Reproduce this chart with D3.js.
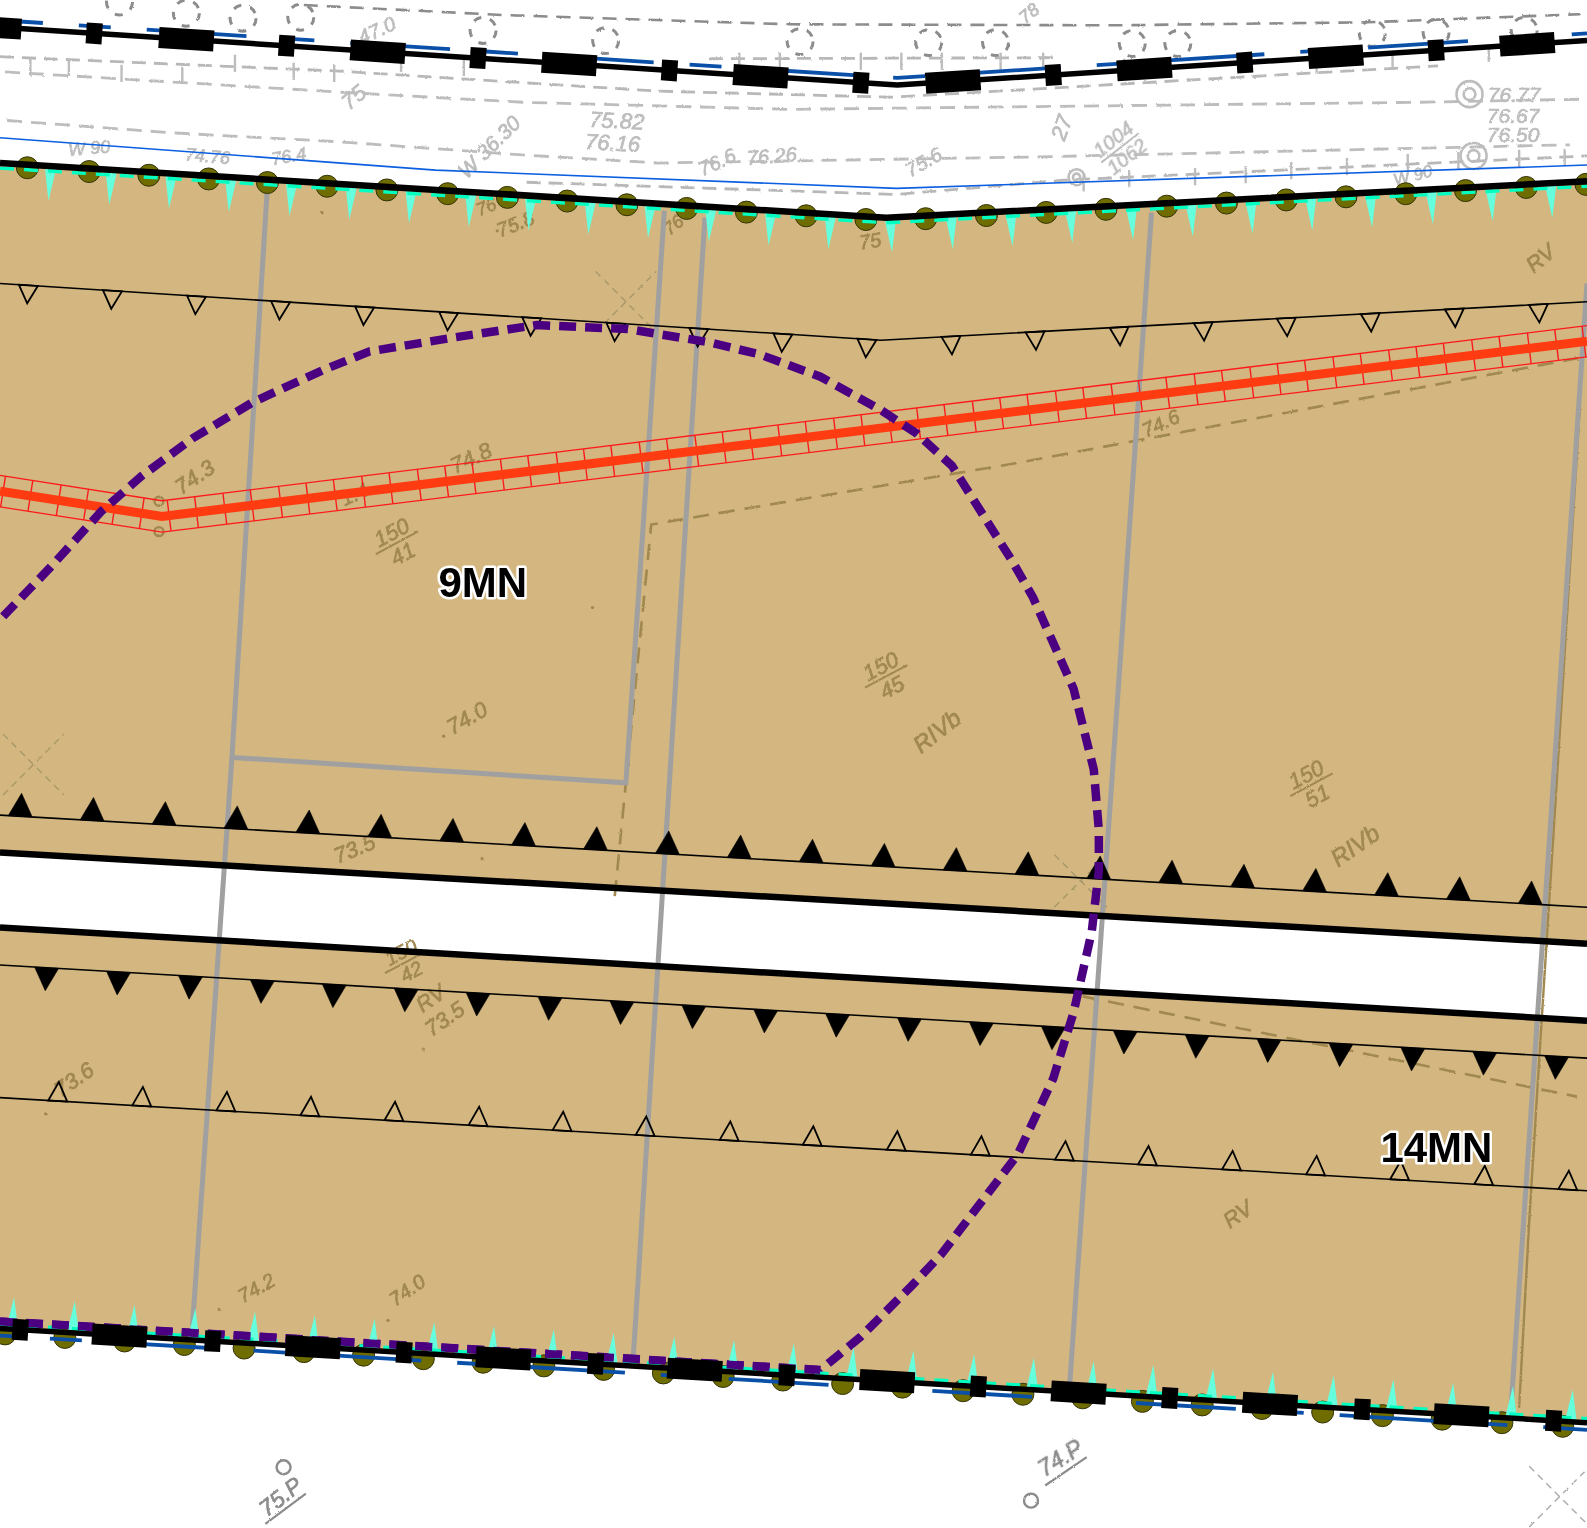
<!DOCTYPE html>
<html>
<head>
<meta charset="utf-8">
<style>
  html, body { margin: 0; padding: 0; background: #fff; }
  svg { display: block; }
</style>
</head>
<body>
<svg id="map"></svg>
<script src="https://cdnjs.cloudflare.com/ajax/libs/d3/7.8.5/d3.min.js"></script>
<script>
const fenceTop = [[0, 27], [886, 84], [1567, 40]];
const fenceBottom = [[0, 1312], [1567, 1405]];
const edgeTop = [[0, 161], [875, 215], [1567, 179]];
const roadUpper = [[0, 842], [1567, 932]];
const roadLower = [[0, 916], [1567, 1008]];
const thinBlue = [[0, 136], [430, 168], [885, 186], [1567, 163]];

const fenceSquaresTop = [93, 283, 472, 661, 850, 1040, 1229, 1418];
const fenceRectsTop = [-6, 184, 373, 562, 751, 941, 1130, 1319, 1508];
const fenceSquaresBottom = [20, 210, 399, 588, 777, 966, 1155, 1345, 1534];
const fenceRectsBottom = [118, 309, 497, 686, 876, 1065, 1254, 1443];

const olivesTop = [27, 88, 147, 206, 264, 323, 382, 442, 501, 560, 619, 678, 737, 796, 855, 914, 974, 1033, 1092, 1152, 1211, 1270, 1329, 1388, 1447, 1507, 1566];
const spikesTop = [50, 110, 169, 228, 288, 347, 406, 465, 524, 583, 642, 702, 761, 820, 879, 939, 998, 1057, 1117, 1176, 1235, 1294, 1353, 1413, 1472, 1531];
const olivesBottom = [5, 64, 123, 182, 241, 300, 359, 418, 477, 537, 596, 655, 714, 773, 832, 891, 951, 1010, 1069, 1128, 1187, 1246, 1306, 1365, 1424, 1483, 1543];
const spikesBottom = [12, 72, 131, 191, 250, 309, 368, 427, 486, 545, 604, 664, 723, 782, 841, 900, 960, 1019, 1078, 1137, 1196, 1255, 1315, 1374, 1433, 1492, 1551];

const slopeOpenTop = [[0, 280], [870, 336], [1567, 298]];
const slopeSolidTop = [[0, 805], [1567, 896]];
const slopeSolidBottom = [[0, 953], [1567, 1045]];
const slopeOpenBottom = [[0, 1084], [1567, 1176]];
const openTopX = [28, 111, 194, 277, 360, 443, 525, 608, 690, 773, 856, 939, 1022, 1105, 1188, 1270, 1353, 1436, 1519];
const solidTopX = [20, 91, 162, 233, 304, 375, 446, 517, 588, 659, 730, 801, 872, 943, 1014, 1085, 1156, 1227, 1298, 1369, 1440, 1511];
const solidBottomX = [46, 117, 188, 259, 330, 401, 472, 543, 614, 685, 756, 827, 898, 969, 1040, 1111, 1182, 1253, 1324, 1395, 1466, 1537];
const openBottomX = [57, 140, 223, 306, 389, 472, 555, 637, 720, 802, 885, 968, 1051, 1133, 1216, 1299, 1382, 1465, 1548];

const parcelLines = [
  [[264, 185], [229, 748], [190, 1310]],
  [[229, 748], [618, 773], [656, 208]],
  [[696, 215], [625, 1345]],
  [[1137, 210], [1056, 1370]],
  [[1567, 280], [1492, 1390]]
];
const brownDashed = [
  [[607, 885], [643, 518], [1000, 458], [1567, 352]],
  [[1069, 984], [1557, 1083]]
];
const brownThin = [[1560, 400], [1536, 790], [1521, 1027], [1510, 1205], [1500, 1390]];

const ductAxis = [[0, 485], [160, 510], [1567, 337]];
const ductTicksLeft = [3, 30, 58, 85, 113, 140];
const ductTicksRight = [167, 194, 222, 249, 277, 304, 331, 359, 386, 414, 441, 468, 496, 523, 551, 578, 605, 633, 660, 688, 715, 742, 770, 797, 825, 852, 879, 907, 934, 962, 989, 1016, 1044, 1071, 1099, 1126, 1153, 1181, 1208, 1236, 1263, 1290, 1318, 1345, 1373, 1400, 1427, 1455, 1482, 1510, 1537, 1564];

const purpleRoute = [[0, 1305], [810, 1353], [850, 1320], [900, 1270], [930, 1238], [1005, 1140], [1040, 1065], [1060, 1000], [1078, 920], [1085, 860], [1085, 820], [1080, 760], [1060, 680], [1020, 590], [1000, 555], [940, 460], [905, 428], [870, 405], [810, 372], [750, 350], [700, 338], [620, 325], [530, 321], [450, 333], [365, 347], [320, 365], [250, 397], [190, 433], [140, 470], [100, 505], [50, 560], [0, 612]];

const surveyDark = [[300, 5], [500, 15], [780, 24], [1100, 25], [1350, 22], [1560, 14]];
const surveyRows = [
  [[5, 71], [336, 91], [516, 101], [780, 108], [1047, 105], [1400, 101], [1560, 98]],
  [[7, 119], [167, 131], [334, 140], [516, 153], [650, 161], [1022, 155], [1550, 143]],
  [[653, 882], [1069, 984]]
];
const bracketRows = [
  [[0, 56], [330, 70], [650, 90], [880, 96], [1420, 65]],
  [[700, 58], [1040, 57]],
  [[520, 180], [885, 192], [1050, 178], [1567, 154]]
];
const bracketStubs = [
  [30, 66], [68, 66], [120, 72], [180, 74], [232, 62], [290, 70], [330, 72], [396, 62], [458, 66],
  [730, 60], [770, 60], [850, 60], [890, 60], [930, 60], [988, 60], [1030, 60],
  [1070, 180], [1115, 176], [1180, 174], [1230, 172], [1275, 168], [1330, 164], [1390, 160], [1440, 158], [1500, 156], [1545, 155],
  [1110, 66], [1300, 64], [1375, 60], [1470, 52]
];
const treeCircles = [[118, 2], [184, 13], [240, 18], [297, 17], [477, 30], [598, 40], [790, 41], [917, 42], [983, 42], [1118, 43], [1163, 43], [1355, 33], [1418, 32], [1505, 30]];
const bullseyes = [[1451, 93, 13], [1455, 154, 13], [1063, 175, 8]];
const markers = [[157, 495], [157, 525], [280, 1449], [1018, 1482]];
const crosses = [[618, 298, 30], [33, 755, 30], [1067, 870, 26], [1540, 1478, 30]];
const specks = [[491, 228], [318, 210], [438, 727], [585, 600], [476, 848], [418, 1036], [216, 1293], [383, 1304], [45, 1100]];

const brownLabels = [
  ["74.3", 192, 471, -35, 22], ["74.8", 465, 452, -25, 22], ["1.4", 350, 488, -25, 20], ["74.6", 1146, 418, -25, 20],
  ["74.0", 461, 709, -30, 22], ["RIVb", 925, 722, -38, 24], ["RIVb", 1338, 835, -35, 24], ["RV", 1521, 255, -40, 22],
  ["73.5", 350, 838, -22, 22], ["RV", 425, 986, -35, 22], ["73.5", 439, 1006, -35, 22], ["73.6", 73, 1066, -35, 22],
  ["74.2", 253, 1272, -30, 20], ["74.0", 402, 1274, -35, 20], ["RV", 1222, 1199, -35, 22], ["75.8", 509, 221, -22, 20],
  ["76", 480, 204, -22, 18], ["75", 859, 238, -10, 20], ["76", 665, 222, -40, 18]
];
const greyLabels = [
  ["75.82", 609, 119, 3, 22], ["76.16", 605, 141, 3, 22], ["76.77", 1495, 93, 0, 21], ["76.67", 1494, 114, 0, 21],
  ["76.50", 1494, 133, 0, 21], ["27", 1048, 126, -70, 22], ["75", 349, 96, -40, 22], ["47.0", 372, 30, -25, 20],
  ["78", 1016, 13, -40, 18], ["W 36.30", 483, 145, -45, 21], ["W 90", 88, 146, -5, 18], ["74.76", 205, 154, 5, 18],
  ["76.4", 285, 154, -10, 18], ["76.6", 708, 160, -25, 20], ["76.26", 762, 154, -5, 20], ["75.6", 912, 160, -30, 20],
  ["W 90", 1395, 173, -15, 17], ["73.8", 92, 886, -30, 21]
];
const darkGreyLabels = [["75.P", 277, 1478, -38, 23], ["74.P", 1047, 1440, -32, 23]];
const labelRules = [[[262, 1505], [302, 1475]], [[1032, 1467], [1073, 1439]]];
const fractions = [
  ["150", "41", 392, 536, -28, 22], ["150", "45", 875, 668, -28, 22], ["150", "51", 1295, 775, -28, 22],
  ["150", "42", 401, 950, -28, 20], ["1004", "1062", 1106, 146, -38, 20]
];
const zoneLabels = [["9MN", 433, 590, 42], ["14MN", 1363, 1148, 42]];

const width = 1587, height = 1528;
const x = d3.scaleLinear().domain([0, 1567]).range([0, width]);
const y = d3.scaleLinear().domain([0, 1509]).range([0, height]);
const path = d3.line().x((d) => x(d[0])).y((d) => y(d[1]));

const svg = d3.select("#map").attr("width", width).attr("height", height).attr("viewBox", [0, 0, width, height]);

const rough = svg.append("defs").append("filter").attr("id", "rough").attr("x", "-5%").attr("y", "-5%").attr("width", "110%").attr("height", "110%");
rough.append("feTurbulence").attr("type", "fractalNoise").attr("baseFrequency", 0.55).attr("numOctaves", 1).attr("seed", 3);
rough.append("feDisplacementMap").attr("in", "SourceGraphic").attr("scale", 2.4);

// y on a polyline for a given sheet x
function along(line) {
  return d3.scaleLinear().domain(line.map((d) => d[0])).range(line.map((d) => d[1]));
}
function slopeDeg(line, v) {
  const f = along(line);
  return (Math.atan2(y(f(v + 1)) - y(f(v - 1)), x(2)) * 180) / Math.PI;
}
function shifted(line, dy) {
  return line.map((d) => [d[0], d[1] + dy]);
}

svg.append("rect").attr("width", width).attr("height", height).attr("fill", "#fff");

// scanned survey underlay on white
const survey = svg.append("g").attr("filter", "url(#rough)").attr("fill", "none");
survey.append("path").attr("d", path(surveyDark)).attr("stroke", "#8c8c8c").attr("stroke-width", 2.6).attr("stroke-dasharray", "14 9");
survey.selectAll(".row").data(surveyRows).join("path").attr("d", path).attr("stroke", "#bdbdbd").attr("stroke-width", 2.8).attr("stroke-dasharray", "15 9");
survey.selectAll(".bracket").data(bracketRows).join("path").attr("d", path).attr("stroke", "#b8b8b8").attr("stroke-width", 2.8).attr("stroke-dasharray", "14 8");
survey.selectAll(".stub").data(bracketStubs).join("line")
  .attr("x1", (d) => x(d[0])).attr("x2", (d) => x(d[0]))
  .attr("y1", (d) => y(d[1] - 8)).attr("y2", (d) => y(d[1] + 9))
  .attr("stroke", "#bdbdbd").attr("stroke-width", 2.4);
survey.selectAll(".tree").data(treeCircles).join("circle")
  .attr("cx", (d) => x(d[0])).attr("cy", (d) => y(d[1])).attr("r", 13)
  .attr("stroke", "#8c8c8c").attr("stroke-width", 3).attr("stroke-dasharray", "8 9");
survey.selectAll(".bull").data(bullseyes).join("g").each(function (d) {
  d3.select(this).selectAll("circle").data([d[2], d[2] * 0.45]).join("circle")
    .attr("cx", x(d[0])).attr("cy", y(d[1])).attr("r", (r) => r)
    .attr("stroke", "#bdbdbd").attr("stroke-width", 2.6);
});

function handText(sel, rows, fill) {
  sel.selectAll("text.t").data(rows).join("text").attr("class", "t")
    .attr("transform", (d) => `translate(${x(d[1])},${y(d[2])}) rotate(${d[3]})`)
    .attr("text-anchor", "middle")
    .attr("font-family", "'Liberation Sans', sans-serif").attr("font-style", "italic")
    .attr("font-size", (d) => d[4]).attr("fill", fill)
    .attr("stroke", fill).attr("stroke-width", 0.7)
    .attr("y", (d) => d[4] * 0.35)
    .text((d) => d[0]);
}
handText(survey.append("g"), greyLabels, "#bdbdbd");

// thin blue boundary above the land
svg.append("path").attr("d", path(thinBlue)).attr("fill", "none").attr("stroke", "#0b5fe0").attr("stroke-width", 1.6);

// land parcel
svg.append("path")
  .attr("d", path([...edgeTop, ...fenceBottom.slice().reverse()]) + "Z")
  .attr("fill", "#d3b680");
svg.append("path")
  .attr("d", path([...roadUpper, ...roadLower.slice().reverse()]) + "Z")
  .attr("fill", "#fff");

// scan marks on the land
const scan = svg.append("g").attr("filter", "url(#rough)").attr("fill", "none");
scan.selectAll(".bd").data(brownDashed).join("path").attr("d", path).attr("stroke", "#a08850").attr("stroke-width", 2.6).attr("stroke-dasharray", "16 10");
scan.append("path").attr("d", path(brownThin)).attr("stroke", "#a08850").attr("stroke-width", 2.4);
scan.selectAll(".mk").data(markers.slice(0, 2)).join("circle")
  .attr("cx", (d) => x(d[0])).attr("cy", (d) => y(d[1])).attr("r", 4.5).attr("stroke", "#a08850").attr("stroke-width", 2.4);
scan.selectAll(".speck").data(specks).join("circle")
  .attr("cx", (d) => x(d[0])).attr("cy", (d) => y(d[1])).attr("r", 1.6).attr("fill", "#a08850");
scan.selectAll(".cross").data(crosses.slice(0, 3)).join("g").each(function (d) {
  const r = d[2];
  d3.select(this).selectAll("line").data([[-1, -1, 1, 1], [-1, 1, 1, -1]]).join("line")
    .attr("x1", (c) => x(d[0] + c[0] * r)).attr("y1", (c) => y(d[1] + c[1] * r))
    .attr("x2", (c) => x(d[0] + c[2] * r)).attr("y2", (c) => y(d[1] + c[3] * r))
    .attr("stroke", "#a89868").attr("stroke-width", 1.4).attr("stroke-dasharray", "7 5");
});
handText(scan.append("g"), brownLabels, "#a08850");
const frac = scan.selectAll(".frac").data(fractions).join("g")
  .attr("transform", (d) => `translate(${x(d[2])},${y(d[3])}) rotate(${d[4]})`)
  .attr("font-family", "'Liberation Sans', sans-serif").attr("font-style", "italic")
  .attr("text-anchor", "middle")
  .attr("fill", (d) => (d[1] === "1062" ? "#bdbdbd" : "#a08850"))
  .attr("stroke", (d) => (d[1] === "1062" ? "#bdbdbd" : "#a08850")).attr("stroke-width", 0.6);
frac.append("text").attr("y", -4).attr("font-size", (d) => d[5]).text((d) => d[0]);
frac.append("text").attr("y", (d) => d[5] - 2).attr("font-size", (d) => d[5]).text((d) => d[1]);
frac.append("line").attr("x1", -24).attr("x2", 24).attr("y1", 0).attr("y2", 0).attr("stroke-width", 2);

// grey parcel lines
svg.selectAll(".parcel").data(parcelLines).join("path").attr("class", "parcel")
  .attr("d", path).attr("fill", "none").attr("stroke", "#a0a0a0").attr("stroke-width", 5);

// road edges
svg.selectAll(".road").data([roadUpper, roadLower]).join("path").attr("class", "road")
  .attr("d", path).attr("fill", "none").attr("stroke", "#000").attr("stroke-width", 6.5);

// embankment lines with triangles
function slopeLine(line, xs, dir, filled, w, h) {
  const f = along(line);
  svg.append("path").attr("d", path(line)).attr("fill", "none").attr("stroke", "#000").attr("stroke-width", 1.6);
  svg.append("g").selectAll("path").data(xs).join("path")
    .attr("transform", (d) => `translate(${x(d)},${y(f(d))}) rotate(${slopeDeg(line, d)})`)
    .attr("d", `M${-w / 2},0L${w / 2},0L0,${dir * h}Z`)
    .attr("fill", filled ? "#000" : "none")
    .attr("stroke", "#000").attr("stroke-width", filled ? 0.6 : 1.8);
}
slopeLine(slopeOpenTop, openTopX, 1, false, 19, 18);
slopeLine(slopeSolidTop, solidTopX, -1, true, 24, 23);
slopeLine(slopeSolidBottom, solidBottomX, 1, true, 24, 23);
slopeLine(slopeOpenBottom, openBottomX, -1, false, 19, 19);

// red duct
const duct = svg.append("g").attr("fill", "none");
duct.selectAll(".edge").data([-15.5, 15.5]).join("path").attr("d", (d) => path(shifted(ductAxis, d))).attr("stroke", "#ff1a1a").attr("stroke-width", 1.3);
const ductF = along(ductAxis);
duct.selectAll(".tick").data([...ductTicksLeft, ...ductTicksRight]).join("line")
  .attr("transform", (d) => `translate(${x(d)},${y(ductF(d))}) rotate(${slopeDeg(ductAxis, d)})`)
  .attr("y1", -15.5).attr("y2", 15.5).attr("stroke", "#ff1a1a").attr("stroke-width", 1.4);

// purple route goes under the duct axis
svg.append("path").attr("d", path(purpleRoute)).attr("fill", "none").attr("stroke", "#4b0082").attr("stroke-width", 8.5).attr("stroke-dasharray", "17 9");
duct.append("path").attr("d", path(ductAxis)).attr("stroke", "#ff3b12").attr("stroke-width", 9);

// top and bottom edges of the land
function olives(line, xs, dy) {
  const f = along(line);
  svg.append("g").selectAll("circle").data(xs).join("circle")
    .attr("cx", (d) => x(d)).attr("cy", (d) => y(f(d) + dy)).attr("r", 11)
    .attr("fill", "#6f6c00").attr("stroke", "#33330a").attr("stroke-width", 1);
}
function spikes(line, xs, dir, len) {
  const f = along(line);
  svg.append("g").selectAll("path").data(xs).join("path")
    .attr("transform", (d) => `translate(${x(d)},${y(f(d))}) rotate(${slopeDeg(line, d)})`)
    .attr("d", `M-6,0L6,0L0,${dir * len}Z`)
    .attr("fill", "#66ffdd");
}
olives(edgeTop, olivesTop, 3);
spikes(edgeTop, spikesTop, 1, 35);
svg.append("path").attr("d", path(shifted(edgeTop, 5))).attr("fill", "none").attr("stroke", "#00ffc0").attr("stroke-width", 3.4).attr("stroke-dasharray", "14 10");
svg.append("path").attr("d", path(edgeTop)).attr("fill", "none").attr("stroke", "#000").attr("stroke-width", 6.5);

olives(fenceBottom, olivesBottom, 5);
spikes(fenceBottom, spikesBottom, -1, 32);
svg.append("path").attr("d", path(shifted(fenceBottom, -4))).attr("fill", "none").attr("stroke", "#00ffc0").attr("stroke-width", 3.4).attr("stroke-dasharray", "14 10");
svg.append("path").attr("d", path(purpleRoute.slice(0, 2))).attr("fill", "none").attr("stroke", "#4b0082").attr("stroke-width", 8).attr("stroke-dasharray", "17 9");

// fence lines, blue offset dashes sit behind the posts
function fence(line, squares, rects, blueDy, blueStart) {
  const f = along(line);
  svg.append("path").attr("d", path(shifted(line, blueDy))).attr("fill", "none")
    .attr("stroke", "#0a4fa8").attr("stroke-width", 3.8)
    .attr("stroke-dasharray", "32 36 100 36").attr("stroke-dashoffset", -blueStart);
  svg.append("path").attr("d", path(line)).attr("fill", "none").attr("stroke", "#000").attr("stroke-width", 5.5);
  svg.append("g").selectAll("rect")
    .data([...squares.map((d) => [d, 16]), ...rects.map((d) => [d, 55])]).join("rect")
    .attr("transform", (d) => `translate(${x(d[0])},${y(f(Math.max(d[0], 0)))}) rotate(${slopeDeg(line, Math.max(d[0], 1))})`)
    .attr("x", (d) => -d[1] / 2).attr("width", (d) => d[1])
    .attr("y", -10.5).attr("height", 21).attr("fill", "#000");
}
fence(fenceTop, fenceSquaresTop, fenceRectsTop, -7, 79);
fence(fenceBottom, fenceSquaresBottom, fenceRectsBottom, 7, 50);

// labels below the plan
const under = svg.append("g").attr("filter", "url(#rough)").attr("fill", "none");
under.selectAll("circle").data(markers.slice(2)).join("circle")
  .attr("cx", (d) => x(d[0])).attr("cy", (d) => y(d[1])).attr("r", 7).attr("stroke", "#8c8c8c").attr("stroke-width", 2.4);
handText(under.append("g"), darkGreyLabels, "#8c8c8c");
under.selectAll(".rule").data(labelRules).join("path").attr("class", "rule").attr("d", path).attr("stroke", "#8c8c8c").attr("stroke-width", 2.2);
under.selectAll(".cr").data(crosses.slice(3)).join("g").each(function (d) {
  const r = d[2];
  d3.select(this).selectAll("line").data([[-1, -1, 1, 1], [-1, 1, 1, -1]]).join("line")
    .attr("x1", (c) => x(d[0] + c[0] * r)).attr("y1", (c) => y(d[1] + c[1] * r))
    .attr("x2", (c) => x(d[0] + c[2] * r)).attr("y2", (c) => y(d[1] + c[3] * r))
    .attr("stroke", "#aaa").attr("stroke-width", 1.4).attr("stroke-dasharray", "7 5");
});

// zone names
svg.selectAll(".zone").data(zoneLabels).join("text").attr("class", "zone")
  .attr("x", (d) => x(d[1])).attr("y", (d) => y(d[2]))
  .attr("font-family", "'Liberation Sans', Arial, sans-serif").attr("font-weight", "bold")
  .attr("font-size", (d) => d[3]).attr("fill", "#000")
  .attr("stroke", "#fff").attr("stroke-width", 5).attr("stroke-linejoin", "round").attr("paint-order", "stroke")
  .text((d) => d[0]);
</script>
</body>
</html>
